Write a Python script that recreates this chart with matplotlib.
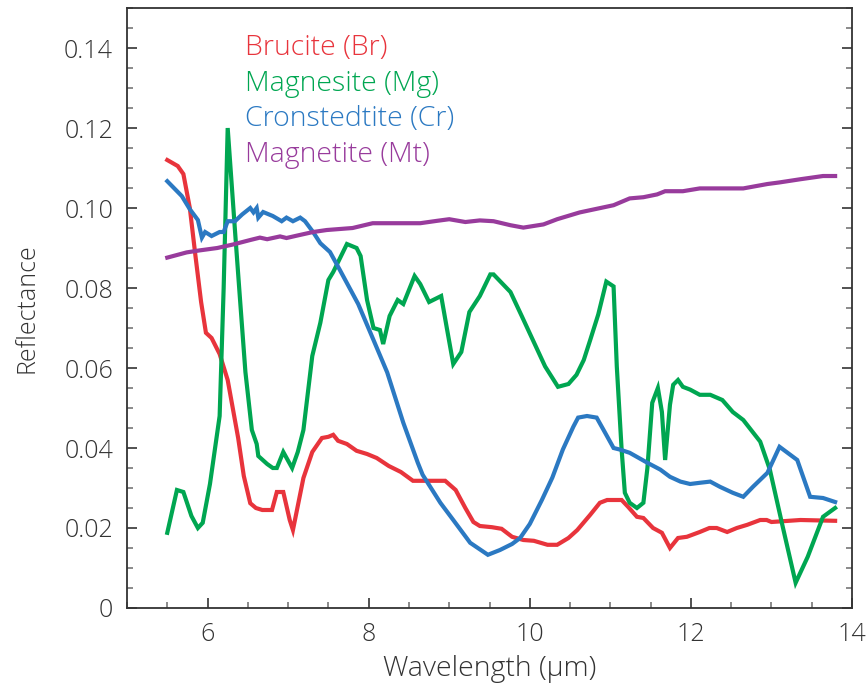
import matplotlib
matplotlib.use("Agg")
import matplotlib.pyplot as plt
from matplotlib.ticker import MultipleLocator

plt.rcParams['font.family'] = ['Open Sans', 'DejaVu Sans']

# Brucite (Br)
br_x = [5.5, 5.63, 5.7, 5.78, 5.85, 5.92, 5.98, 6.05, 6.15, 6.25, 6.38, 6.45, 6.53, 6.6, 6.68,
        6.8, 6.86, 6.94, 7.02, 7.06, 7.19, 7.3, 7.42, 7.5, 7.56, 7.62, 7.73, 7.85, 7.98, 8.1,
        8.25, 8.4, 8.55, 8.75, 8.95, 9.08, 9.2, 9.3, 9.38, 9.53, 9.65, 9.78, 9.92, 10.05, 10.22,
        10.34, 10.48, 10.59, 10.75, 10.87, 10.96, 11.14, 11.22, 11.33, 11.41, 11.53, 11.64,
        11.74, 11.84, 11.95, 12.11, 12.23, 12.32, 12.45, 12.57, 12.7, 12.86, 12.94, 13.0,
        13.36, 13.79]
br_y = [0.112, 0.1105, 0.1085, 0.1, 0.088, 0.0765, 0.0688, 0.0675, 0.0635, 0.057, 0.0425,
        0.033, 0.0262, 0.025, 0.0245, 0.0245, 0.029, 0.029, 0.022, 0.0195, 0.0325, 0.039,
        0.0425, 0.0428, 0.0433, 0.0418, 0.041, 0.0393, 0.0385, 0.0375, 0.0355, 0.034, 0.0318,
        0.0318, 0.0318, 0.0295, 0.025, 0.0215, 0.0205, 0.0202, 0.0198, 0.0178, 0.017, 0.0168,
        0.0158, 0.0158, 0.0175, 0.0195, 0.0233, 0.0263, 0.027, 0.027, 0.0253, 0.0228, 0.0225,
        0.02, 0.0188, 0.015, 0.0175, 0.0178, 0.019, 0.02, 0.02, 0.019, 0.02, 0.0208, 0.022,
        0.022, 0.0215, 0.022, 0.0218]

# Magnesite (Mg)
mg_x = [5.5, 5.62, 5.7, 5.8, 5.88, 5.94, 6.03, 6.15, 6.2, 6.25, 6.34, 6.4, 6.47, 6.55, 6.61,
        6.63, 6.74, 6.81, 6.86, 6.94, 7.05, 7.12, 7.19, 7.3, 7.4, 7.5, 7.56, 7.73, 7.85, 7.9,
        7.98, 8.06, 8.14, 8.18, 8.26, 8.36, 8.43, 8.57, 8.64, 8.75, 8.9, 8.97, 9.05, 9.15,
        9.25, 9.38, 9.51, 9.55, 9.76, 9.9, 10.19, 10.35, 10.48, 10.58, 10.67, 10.75, 10.85,
        10.95, 11.04, 11.08, 11.14, 11.18, 11.24, 11.33, 11.41, 11.46, 11.52, 11.59, 11.64,
        11.68, 11.74, 11.78, 11.84, 11.9, 11.99, 12.11, 12.24, 12.39, 12.52, 12.65, 12.86,
        12.98, 13.14, 13.3, 13.45, 13.64, 13.79]
mg_y = [0.0188, 0.0295, 0.029, 0.023, 0.02, 0.0213, 0.031, 0.048, 0.08, 0.12, 0.0945, 0.078,
        0.059, 0.0445, 0.041, 0.038, 0.036, 0.035, 0.035, 0.039, 0.035, 0.039, 0.0445, 0.063,
        0.0713, 0.082, 0.084, 0.091, 0.09, 0.088, 0.077, 0.07, 0.0695, 0.066, 0.073, 0.077,
        0.076, 0.083, 0.081, 0.0765, 0.078, 0.07, 0.061, 0.064, 0.074, 0.078, 0.0834, 0.0834,
        0.079, 0.073, 0.0604, 0.0553, 0.056, 0.0583, 0.062, 0.067, 0.0734, 0.0816, 0.0804,
        0.0604, 0.0396, 0.0288, 0.0263, 0.025, 0.0263, 0.035, 0.0513, 0.055, 0.049, 0.037,
        0.0508, 0.0558, 0.057, 0.0553, 0.0546, 0.0533, 0.0533, 0.052, 0.049, 0.047, 0.0416,
        0.0346, 0.0203, 0.0063, 0.0128, 0.0228, 0.025]

# Cronstedtite (Cr)
cr_x = [5.5, 5.68, 5.78, 5.88, 5.93, 5.97, 6.05, 6.15, 6.2, 6.25, 6.34, 6.43, 6.53, 6.57,
        6.61, 6.63, 6.69, 6.81, 6.92, 6.98, 7.06, 7.15, 7.21, 7.31, 7.4, 7.52, 7.64, 7.87,
        8.06, 8.23, 8.43, 8.61, 8.67, 8.89, 9.05, 9.26, 9.48, 9.63, 9.78, 9.88, 10.0, 10.15,
        10.28, 10.41, 10.54, 10.6, 10.71, 10.83, 10.93, 11.04, 11.12, 11.24, 11.46, 11.62,
        11.74, 11.87, 11.99, 12.11, 12.24, 12.36, 12.52, 12.65, 12.77, 12.95, 13.1, 13.32,
        13.48, 13.64, 13.79]
cr_y = [0.1067, 0.103, 0.0997, 0.097, 0.0926, 0.094, 0.093, 0.094, 0.094, 0.0967, 0.0967,
        0.0984, 0.1, 0.0989, 0.1, 0.0976, 0.099, 0.098, 0.0967, 0.0976, 0.0967, 0.0976, 0.0967,
        0.094, 0.0912, 0.089, 0.0846, 0.076, 0.067, 0.0589, 0.0463, 0.0363, 0.0333, 0.0263,
        0.022, 0.0163, 0.0133, 0.0145, 0.016, 0.0175, 0.021, 0.027, 0.0326, 0.0396, 0.0453,
        0.0476, 0.048, 0.0476, 0.044, 0.04, 0.0396, 0.0388, 0.0363, 0.0346, 0.0328, 0.0316,
        0.031, 0.0313, 0.0316, 0.0303, 0.0288, 0.0278, 0.0303, 0.0338, 0.0403, 0.037, 0.0278,
        0.0275, 0.0265]

# Magnetite (Mt)
mt_x = [5.5, 5.74, 5.9, 6.12, 6.32, 6.53, 6.65, 6.74, 6.9, 6.98, 7.11, 7.31, 7.48, 7.8, 8.05,
        8.64, 8.85, 9.0, 9.2, 9.38, 9.55, 9.76, 9.92, 10.17, 10.34, 10.62, 11.04, 11.24, 11.41,
        11.58, 11.68, 11.9, 12.11, 12.65, 12.95, 13.1, 13.36, 13.64, 13.79]
mt_y = [0.0876, 0.0889, 0.0894, 0.09, 0.0909, 0.092, 0.0926, 0.0922, 0.0929, 0.0925, 0.0931,
        0.094, 0.0945, 0.095, 0.0962, 0.0962, 0.0968, 0.0972, 0.0965, 0.0969, 0.0967, 0.0957,
        0.0951, 0.0959, 0.0972, 0.0989, 0.1007, 0.1024, 0.1027, 0.1034, 0.1042, 0.1042,
        0.1049, 0.1049, 0.106, 0.1064, 0.1072, 0.108, 0.108]

names = ['Brucite (Br)', 'Magnesite (Mg)', 'Cronstedtite (Cr)', 'Magnetite (Mt)']
colors = ['#e8343c', '#00a651', '#2b79c2', '#983b9c']

fig = plt.figure(figsize=(8.68, 6.92), dpi=100)
ax = fig.add_axes([0.1463, 0.1214, 0.8353, 0.867])

series = [(br_x, br_y), (mg_x, mg_y), (cr_x, cr_y), (mt_x, mt_y)]
for (xs, ys), c in zip(series, colors):
    ax.plot(xs, ys, color=c, linewidth=3, solid_joinstyle='miter')

# legend as coloured text
for i, (name, c) in enumerate(zip(names, colors)):
    ax.text(0.163, 0.933 - i * 0.0593, name, color=c, fontsize=20.5,
            transform=ax.transAxes, va='center', ha='left', fontweight='light')

ax.set_xlim(5, 14)
ax.set_ylim(0, 0.15)
ax.xaxis.set_major_locator(MultipleLocator(2))
ax.xaxis.set_minor_locator(MultipleLocator(0.5))
ax.yaxis.set_major_locator(MultipleLocator(0.02))
ax.yaxis.set_minor_locator(MultipleLocator(0.005))
ax.set_yticks([0, 0.02, 0.04, 0.06, 0.08, 0.10, 0.12, 0.14])
ax.set_yticklabels(['0', '0.02', '0.04', '0.06', '0.08', '0.10', '0.12', '0.14'])

ax.tick_params(which='both', direction='in', right=True, top=False,
               labelsize=18, labelcolor='#333333', pad=10)
ax.tick_params(which='major', length=7, width=1.2, color='#333333')
ax.tick_params(which='minor', length=4, width=1.2, color='#777777')
for lbl in ax.get_xticklabels() + ax.get_yticklabels():
    lbl.set_fontweight('light')
for s in ax.spines.values():
    s.set_linewidth(1.3)
    s.set_color('#333333')

ax.set_xlabel('Wavelength (μm)', fontsize=20.5, color='#333333', labelpad=6,
              fontweight='light')
ax.set_ylabel('Reflectance', fontsize=18, color='#333333', labelpad=18,
              fontweight='light')

fig.savefig('out.png', dpi=100)
